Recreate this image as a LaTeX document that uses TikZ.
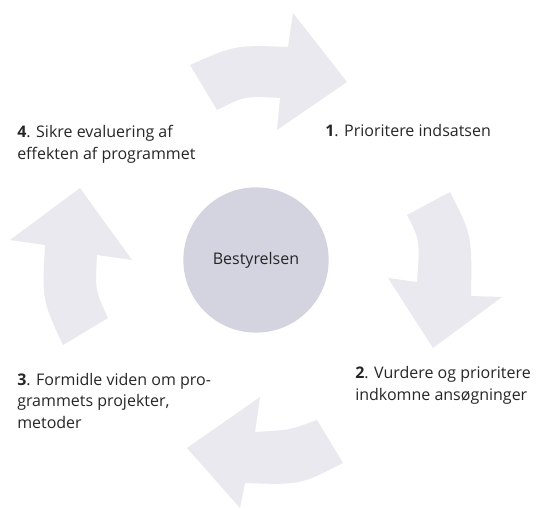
\documentclass[tikz,border=0pt]{standalone}
\usepackage{fontspec}
\setmainfont{Open Sans}
\definecolor{pilgraa}{RGB}{233,233,239}
\definecolor{cirkelgraa}{RGB}{212,212,225}
\tikzset{
  pil/.style={fill=pilgraa, draw=none},
  etiket/.style={anchor=base west, align=left, inner sep=0pt, font=\fontsize{12}{16}\selectfont, text=black!85}
}

\begin{document}
\begin{tikzpicture}[x=0.75pt, y=-0.75pt]
				%%%%% START %%%%%
				\useasboundingbox (0, 0) rectangle (539, 510);
				
				% pil oeverst (mod 1)
				\fill[pil] (190, 65) .. controls (235, 45) .. (288, 47) -- (293, 13) -- (347, 82)
				  -- (277, 130) -- (280, 98) .. controls (245, 96) .. (217, 110) -- cycle;
				
				% pil til hoejre (mod 2)
				\fill[pil] (407, 215) -- (450, 192) .. controls (472, 235) .. (471, 296) -- (502, 297)
				  -- (433, 348) -- (388, 278) -- (417, 282) .. controls (420, 240) .. (407, 215) -- cycle;
				
				% pil nederst (mod 3)
				\fill[pil] (317, 420) -- (343, 463) .. controls (300, 485) .. (245, 483) -- (240, 508)
				  -- (187, 448) -- (260, 397) -- (255, 432) .. controls (290, 430) .. (317, 420) -- cycle;
				
				% pil til venstre (mod 4)
				\fill[pil] (63, 345) -- (108, 318) .. controls (95, 290) .. (97, 255) -- (132, 260)
				  -- (80, 188) -- (10, 240) -- (45, 245) .. controls (42, 300) .. (63, 345) -- cycle;
				
				\node[circle, fill=cirkelgraa, minimum size=109pt, inner sep=0pt,
				  font=\fontsize{12}{14}\selectfont, text=black!85] (bestyrelsen) at (256, 260) {Bestyrelsen};
				
				% base west = grundlinjen for den sidste linje
				\node[etiket] (trin1) at (325, 137) {\textbf{1}. Prioritere indsatsen};
				\node[etiket] (trin2) at (355, 400) {\textbf{2}. Vurdere og prioritere\\indkomne ansøgninger};
				\node[etiket] (trin3) at (17, 428) {\textbf{3}. Formidle viden om pro-\\grammets projekter,\\metoder};
				\node[etiket] (trin4) at (17, 159) {\textbf{4}. Sikre evaluering af\\effekten af programmet};
				%%%%% END %%%%%
\end{tikzpicture}
\end{document}
